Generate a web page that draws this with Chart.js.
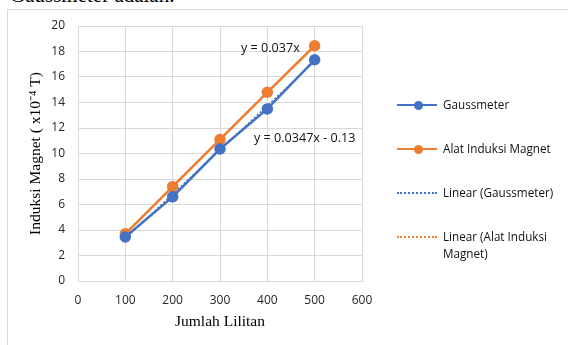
<!DOCTYPE html>
<html><head><meta charset="utf-8">
<script src="https://cdn.jsdelivr.net/npm/chart.js@4/dist/chart.umd.min.js"></script>
<style>
html,body{margin:0;padding:0;background:#fff;overflow:hidden;}
#wrap{position:relative;width:568px;height:345px;}
#frame{position:absolute;left:7px;top:9px;width:600px;height:400px;border-left:1px solid #d9d9d9;border-top:1px solid #d9d9d9;}
#above{position:absolute;left:10px;top:-17px;font-family:"Liberation Serif",serif;font-size:21px;color:#000;white-space:nowrap;}
canvas{position:absolute;left:0;top:0;}
.eq{position:absolute;font-family:"Open Sans",sans-serif;font-size:12.6px;color:#111;white-space:nowrap;transform:translateY(-50%);}
#legend{position:absolute;left:0;top:0;font-family:"Open Sans",sans-serif;font-size:11.7px;color:#111;}
.li{position:absolute;left:443px;line-height:17px;white-space:nowrap;}
</style></head>
<body><div id="wrap">
<div id="above">Gaussmeter adalah.</div>
<div id="frame"></div>
<canvas id="c" width="568" height="345"></canvas>
<div class="eq" style="left:241px;top:47px;">y = 0.037x</div>
<div class="eq" style="left:254px;top:137px;">y = 0.0347x - 0.13</div>
<div id="legend"></div>
</div>
<script>
const lilitan = [100, 200, 300, 400, 500];
const gaussmeter = [3.45, 6.6, 10.35, 13.5, 17.35];
const alatInduksi = [3.7, 7.4, 11.1, 14.8, 18.45];
const linearGauss = [3.34, 6.81, 10.28, 13.75, 17.22];
const linearAlat = [3.7, 7.4, 11.1, 14.8, 18.5];
const seriesNames = ["Gaussmeter", "Alat Induksi Magnet", "Linear (Gaussmeter)", "Linear (Alat Induksi\nMagnet)"];
const xTicks = [0, 100, 200, 300, 400, 500, 600];
const yTicks = [0, 2, 4, 6, 8, 10, 12, 14, 16, 18, 20];

const BLUE = "#4472C4", ORANGE = "#ED7D31";
const pts = arr => lilitan.map((x, i) => ({x, y: arr[i]}));

const titles = {
  id: "titles",
  afterDraw(chart) {
    const {ctx, scales:{x, y}} = chart;
    ctx.save();
    ctx.fillStyle = "#000";
    ctx.font = "15.5px 'Liberation Serif', serif";
    ctx.textAlign = "center"; ctx.textBaseline = "middle";
    ctx.fillText("Jumlah Lilitan", (x.left + x.right) / 2, 322);
    ctx.translate(36, (y.top + y.bottom) / 2);
    ctx.rotate(-Math.PI / 2);
    ctx.fillText("Induksi Magnet ( x10\u207B\u2074 T)", 0, 0);
    ctx.restore();
  }
};

const chart = new Chart(document.getElementById("c"), {
  type: "scatter",
  data: {
    datasets: [
      {label: seriesNames[0], data: pts(gaussmeter), showLine: true, borderColor: BLUE, backgroundColor: BLUE, borderWidth: 2.5, pointRadius: 4.5, pointHoverRadius: 4.5},
      {label: seriesNames[1], data: pts(alatInduksi), showLine: true, borderColor: ORANGE, backgroundColor: ORANGE, borderWidth: 2.5, pointRadius: 4.5, pointHoverRadius: 4.5},
      {label: seriesNames[2], data: pts(linearGauss), showLine: true, borderColor: BLUE, borderWidth: 1.5, borderDash: [2, 2], pointRadius: 0},
      {label: seriesNames[3], data: pts(linearAlat), showLine: true, borderColor: ORANGE, borderWidth: 1.5, borderDash: [2, 2], pointRadius: 0}
    ]
  },
  options: {
    responsive: false, animation: false,
    layout: {padding: {left: 0, top: 26, right: 206, bottom: 0}},
    plugins: {legend: {display: false}, tooltip: {enabled: false}},
    scales: {
      x: {
        type: "linear", min: 0, max: 600,
        afterBuildTicks: s => { s.ticks = xTicks.map(v => ({value: v})); },
        afterFit: s => { s.height = 64; },
        grid: {color: "#d9d9d9", drawTicks: false, lineWidth: 1},
        border: {color: "#d9d9d9"},
        ticks: {padding: 12, color: "#262626", font: {family: "'Open Sans', sans-serif", size: 12}}
      },
      y: {
        type: "linear", min: 0, max: 20,
        afterBuildTicks: s => { s.ticks = yTicks.map(v => ({value: v})); },
        afterFit: s => { s.width = 78; },
        grid: {color: "#d9d9d9", drawTicks: false, lineWidth: 1},
        border: {color: "#d9d9d9"},
        ticks: {padding: 13, color: "#262626", font: {family: "'Open Sans', sans-serif", size: 12}}
      }
    }
  },
  plugins: [titles]
});

// HTML legend built from the datasets
const legend = document.getElementById("legend");
const legendY = [105, 149, 193, 237];
chart.data.datasets.forEach((ds, i) => {
  const yy = legendY[i];
  const line = document.createElement("div");
  line.style.cssText = `position:absolute;left:397px;top:${yy - 1}px;width:40px;height:0;border-top:${ds.borderDash ? "2px dotted" : "2.5px solid"} ${ds.borderColor};`;
  legend.appendChild(line);
  if (ds.pointRadius > 0) {
    const dot = document.createElement("div");
    dot.style.cssText = `position:absolute;left:${418 - 4.5}px;top:${yy - 4.5}px;width:9px;height:9px;border-radius:50%;background:${ds.backgroundColor};`;
    legend.appendChild(dot);
  }
  const t = document.createElement("div");
  t.className = "li";
  t.style.top = (yy - 9) + "px";
  t.innerHTML = ds.label.replace("\n", "<br>");
  legend.appendChild(t);
});
</script>
</body></html>
